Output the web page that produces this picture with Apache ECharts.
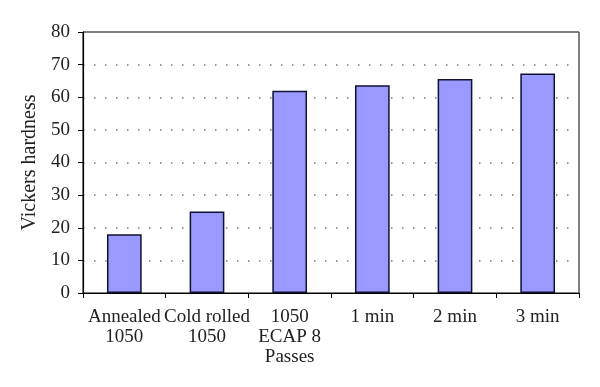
<!DOCTYPE html>
<html><head><meta charset="utf-8">
<script src="https://cdn.jsdelivr.net/npm/echarts@6/dist/echarts.min.js"></script>
<style>html,body{margin:0;padding:0;background:#fff}#c{width:600px;height:387px}</style>
</head><body><div id="c"></div>
<script>
const categories = ['Annealed\n1050', 'Cold rolled\n1050', '1050\nECAP 8\nPasses', '1 min', '2 min', '3 min'];
const hardness = [18, 25, 62, 63.7, 65.6, 67.3];
const yTicks = {min: 0, max: 80, interval: 10};
const font = 'Liberation Serif';
const chart = echarts.init(document.getElementById('c'), null, {renderer: 'canvas'});
chart.setOption({
  animation: false,
  backgroundColor: '#fff',
  grid: {left: 83, right: 21, top: 32, bottom: 94, show: true, borderColor: '#000', borderWidth: 1, backgroundColor: '#fff'},
  xAxis: {
    type: 'category', data: categories,
    axisLine: {lineStyle: {color: '#000', width: 1.2}},
    axisTick: {show: true, length: 5, alignWithLabel: false, lineStyle: {color: '#000'}},
    axisLabel: {interval: 0, color: '#222', fontFamily: font, fontSize: 19, lineHeight: 20, margin: 14}
  },
  yAxis: {
    type: 'value', min: yTicks.min, max: yTicks.max, interval: yTicks.interval,
    name: 'Vickers hardness', nameLocation: 'middle', nameGap: 41,
    nameTextStyle: {color: '#222', fontFamily: font, fontSize: 20},
    axisLine: {show: true, lineStyle: {color: '#000', width: 1.2}},
    axisTick: {show: true, length: 5, lineStyle: {color: '#000'}},
    axisLabel: {color: '#222', fontFamily: font, fontSize: 19, margin: 13},
    splitLine: {show: true, lineStyle: {color: '#777', type: [1.5, 9.5], width: 1.5}}
  },
  series: [{
    type: 'bar', data: hardness, barCategoryGap: '58%',
    itemStyle: {color: '#9999ff', borderColor: '#101030', borderWidth: 1.5}
  }]
});
</script></body></html>
